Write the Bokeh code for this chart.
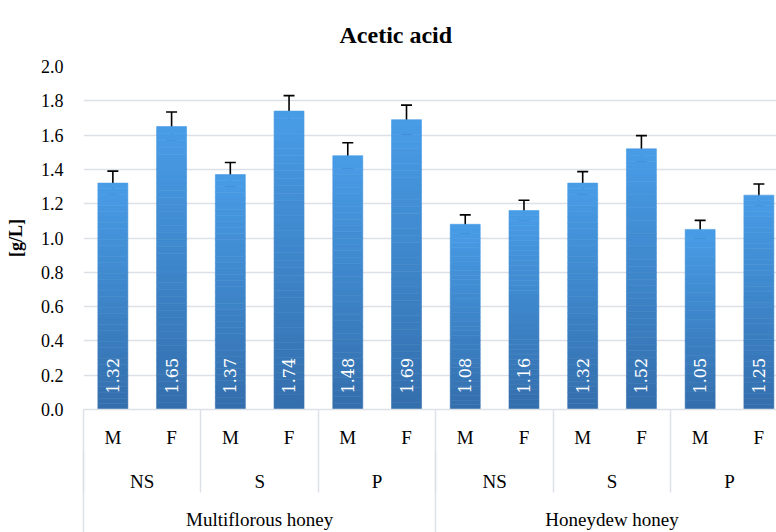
import math
from bokeh.plotting import figure
from bokeh.models import (ColumnDataSource, Range1d, FixedTicker, LinearAxis,
                          Whisker, TeeHead)
from bokeh.core.properties import value
from bokeh.embed import file_html
from bokeh.resources import INLINE

# ---------------- data ----------------
title_text = "Acetic acid"
honey_types = ["Multiflorous honey", "Honeydew honey"]
treatments = ["NS", "S", "P"]
sexes = ["M", "F"]
acetic_acid = [1.32, 1.65, 1.37, 1.74, 1.48, 1.69, 1.08, 1.16, 1.32, 1.52, 1.05, 1.25]
acetic_err = [0.07, 0.085, 0.07, 0.09, 0.075, 0.085, 0.055, 0.06, 0.067, 0.077, 0.053, 0.065]
y_ticks = [0.0, 0.2, 0.4, 0.6, 0.8, 1.0, 1.2, 1.4, 1.6, 1.8, 2.0]

FONT = "Liberation Serif"
GRID = "#dde1e7"
TOP_COL = (0x48, 0x9c, 0xe6)
BOT_COL = (0x34, 0x6f, 0xad)

n = len(acetic_acid)
xs = [i + 0.5 for i in range(n)]
n_tr = len(treatments) * len(honey_types)

p = figure(width=776, height=532, output_backend="svg", toolbar_location=None,
           x_range=Range1d(0, n - 0.2), y_range=Range1d(0, 2.0),
           min_border_left=83, min_border_right=0, min_border_top=64,
           min_border_bottom=0, x_axis_type=None)
p.outline_line_color = None
p.background_fill_color = "white"
p.border_fill_color = "white"

# title
p.title.text = title_text
p.title.align = "left"
p.title.text_font = FONT
p.title.text_font_size = "24px"
p.title.text_font_style = "bold"
p.title.text_color = "black"
p.title.offset = 256
p.title.standoff = 38

# gridlines
p.xgrid.visible = False
p.ygrid.ticker = FixedTicker(ticks=y_ticks)
p.ygrid.grid_line_color = GRID
p.ygrid.grid_line_width = 1.5

# y axis
ya = p.yaxis[0]
ya.ticker = FixedTicker(ticks=y_ticks)
ya.major_label_overrides = {t: f"{t:.1f}" for t in y_ticks}
ya.axis_line_color = None
ya.major_tick_line_color = None
ya.minor_tick_line_color = None
ya.major_tick_out = 0
ya.major_label_standoff = 20
ya.major_label_text_font = FONT
ya.major_label_text_font_size = "18px"
ya.major_label_text_color = "black"
ya.axis_label = "[g/L]"
ya.axis_label_text_font = FONT
ya.axis_label_text_font_size = "18px"
ya.axis_label_text_font_style = "bold"
ya.axis_label_text_color = "black"
ya.axis_label_standoff = 12

# x axes (three stacked levels)
lvl1_labels = {x: sexes[i % len(sexes)] for i, x in enumerate(xs)}
lvl2_pos = [len(sexes) * j + len(sexes) / 2 for j in range(n_tr)]
lvl2_labels = {x: treatments[j % len(treatments)] for j, x in enumerate(lvl2_pos)}
per_type = len(sexes) * len(treatments)
lvl3_pos = [per_type * k + per_type / 2 for k in range(len(honey_types))]
lvl3_labels = {x: honey_types[k] for k, x in enumerate(lvl3_pos)}
sep2 = [len(sexes) * j for j in range(n_tr + 1)]
sep3 = [per_type * k for k in range(len(honey_types) + 1)]

def style_axis(ax, standoff):
    ax.major_tick_line_color = None
    ax.major_tick_out = 0
    ax.major_tick_in = 0
    ax.minor_tick_in = 0
    ax.minor_tick_line_color = GRID
    ax.minor_tick_line_width = 1.5
    ax.major_label_standoff = standoff
    ax.major_label_text_font = FONT
    ax.major_label_text_font_size = "19px"
    ax.major_label_text_color = "black"

ax1 = LinearAxis(ticker=FixedTicker(ticks=xs, minor_ticks=sep2),
                 major_label_overrides=lvl1_labels)
style_axis(ax1, -66)
ax1.axis_line_color = GRID
ax1.axis_line_width = 1.5
ax1.minor_tick_out = 83

ax2 = LinearAxis(ticker=FixedTicker(ticks=lvl2_pos, minor_ticks=sep3),
                 major_label_overrides=lvl2_labels)
style_axis(ax2, -65)
ax2.axis_line_color = None
ax2.minor_tick_out = 85

ax3 = LinearAxis(ticker=FixedTicker(ticks=lvl3_pos, minor_ticks=[]),
                 major_label_overrides=lvl3_labels)
style_axis(ax3, 14)
ax3.axis_line_color = None

p.add_layout(ax1, "below")
p.add_layout(ax2, "below")
p.add_layout(ax3, "below")

# gradient bars (each bar drawn as stacked slices from bottom to top)
K = 40
bx, bb, bt, bc = [], [], [], []
for x, v in zip(xs, acetic_acid):
    for k in range(K):
        f = k / (K - 1)
        r, g, b = (round(BOT_COL[c] + (TOP_COL[c] - BOT_COL[c]) * f) for c in range(3))
        bx.append(x)
        bb.append(v * k / K)
        bt.append(v * (k + 1) / K)
        bc.append(f"#{r:02x}{g:02x}{b:02x}")
p.vbar(x=bx, bottom=bb, top=bt, width=0.51, fill_color=bc, line_color=bc, line_width=0.6)

# error bars
src = ColumnDataSource(dict(
    x=xs,
    upper=[v + e for v, e in zip(acetic_acid, acetic_err)],
    lower=[v - e for v, e in zip(acetic_acid, acetic_err)],
))
wh = Whisker(base="x", upper="upper", lower="lower", source=src,
             line_color="black", line_width=1.6,
             upper_head=TeeHead(size=11, line_color="black", line_width=1.6),
             lower_head=TeeHead(size=11, line_color="black", line_width=1.6))
p.add_layout(wh)

# value labels inside the bars
lab = ColumnDataSource(dict(x=xs, y=[0.0] * n, t=[f"{v:.2f}" for v in acetic_acid]))
p.text(x="x", y="y", text="t", source=lab, angle=math.pi / 2,
       text_align="left", text_baseline="middle", y_offset=-16,
       text_color="white", text_font=value("DejaVu Serif"),
       text_font_size="16px")

open("out.html", "w").write(file_html(p, INLINE))
